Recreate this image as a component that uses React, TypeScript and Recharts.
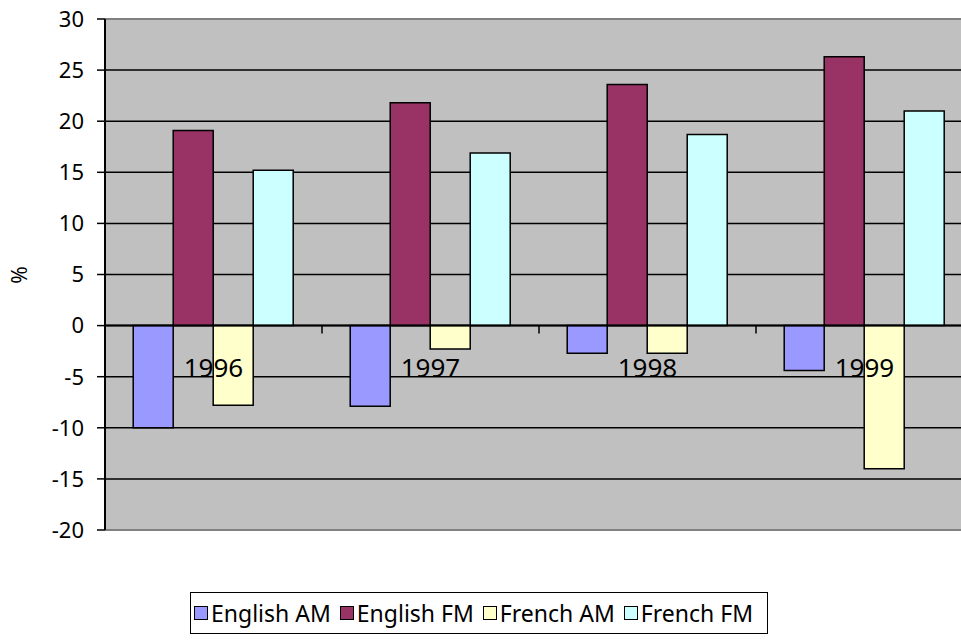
import { BarChart, Bar, XAxis, YAxis, CartesianGrid, ReferenceLine, Legend, Label } from "recharts";

const years = ["1996", "1997", "1998", "1999"];
const englishAM = [-10.0, -7.9, -2.7, -4.4];
const englishFM = [19.1, 21.8, 23.6, 26.3];
const frenchAM = [-7.8, -2.3, -2.7, -14.0];
const frenchFM = [15.2, 16.9, 18.7, 21.0];
const yTicks = [-20, -15, -10, -5, 0, 5, 10, 15, 20, 25, 30];

const SERIES = [
  { key: "englishAM", name: "English AM", color: "#9999FF" },
  { key: "englishFM", name: "English FM", color: "#993366" },
  { key: "frenchAM", name: "French AM", color: "#FFFFCC" },
  { key: "frenchFM", name: "French FM", color: "#CCFFFF" },
];

const FONT = "'Noto Sans', 'Open Sans', sans-serif";

// chart geometry
const CHART_W = 990;
const CHART_H = 641;
const PLOT_LEFT = 105;
const PLOT_TOP = 19;
const PLOT_RIGHT = 973;
const PLOT_BOTTOM = 530;
const PLOT_W = PLOT_RIGHT - PLOT_LEFT;
const PLOT_H = PLOT_BOTTOM - PLOT_TOP;
const Y_MIN = -20;
const Y_MAX = 30;

const data = years.map((year, i) => ({
  year,
  englishAM: englishAM[i],
  englishFM: englishFM[i],
  frenchAM: frenchAM[i],
  frenchFM: frenchFM[i],
}));

// category labels sit on the zero line, like Excel does
function YearTick(props: any) {
  const { x, payload, index } = props;
  const zeroY = PLOT_TOP + (PLOT_H * (Y_MAX - 0)) / (Y_MAX - Y_MIN);
  const band = PLOT_W / years.length;
  const edge = x - band / 2;
  return (
    <g>
      {index > 0 && <line x1={edge} x2={edge} y1={zeroY} y2={zeroY + 8} stroke="#000" strokeWidth={1.5} />}
      <text x={x} y={zeroY + 51} textAnchor="middle" fontSize={26} fontFamily={FONT} fill="#000">
        {payload.value}
      </text>
    </g>
  );
}

function LegendBox() {
  return (
    <div
      style={{
        border: "1.5px solid #000",
        boxSizing: "border-box",
        width: 578,
        height: 42,
        display: "flex",
        alignItems: "center",
        padding: "0 3px",
        fontFamily: FONT,
        fontSize: 23,
        color: "#000",
        background: "#fff",
        whiteSpace: "nowrap",
      }}
    >
      {SERIES.map((s) => (
        <span key={s.key} style={{ display: "inline-flex", alignItems: "center", marginRight: 9 }}>
          <span
            style={{
              display: "inline-block",
              width: 12,
              height: 12,
              border: "1.5px solid #000",
              background: s.color,
              marginRight: 3,
            }}
          />
          {s.name}
        </span>
      ))}
    </div>
  );
}

export default function App() {
  return (
    <div style={{ position: "fixed", left: 0, top: 0, width: 961, height: 641, overflow: "hidden", background: "#fff" }}>
      <BarChart
        width={CHART_W}
        height={CHART_H}
        data={data}
        margin={{ top: PLOT_TOP, right: CHART_W - PLOT_RIGHT, left: 0, bottom: CHART_H - PLOT_BOTTOM - 1 }}
        barCategoryGap="13%"
        barGap={0}
      >
        <CartesianGrid horizontal vertical={false} stroke="#000" strokeWidth={1.5} fill="#C0C0C0" fillOpacity={1} />
        <YAxis
          width={PLOT_LEFT}
          domain={[Y_MIN, Y_MAX]}
          ticks={yTicks}
          interval={0}
          allowDataOverflow
          axisLine={{ stroke: "#000", strokeWidth: 2 }}
          tickLine={{ stroke: "#000", strokeWidth: 1.5 }}
          tickSize={8}
          tickMargin={13}
          tick={{ fill: "#000", fontSize: 22, fontFamily: FONT }}
        >
          <Label
            content={() => (
              <text x={27} y={275} transform="rotate(-90 27 275)" textAnchor="middle" fontSize={21} fontFamily={FONT} fill="#000">
                %
              </text>
            )}
          />
        </YAxis>
        <ReferenceLine y={Y_MAX} stroke="#808080" strokeWidth={2} ifOverflow="extendDomain" />
        <ReferenceLine y={Y_MIN} stroke="#808080" strokeWidth={2} ifOverflow="extendDomain" />
        {SERIES.map((s) => (
          <Bar key={s.key} dataKey={s.key} name={s.name} fill={s.color} stroke="#000" strokeWidth={1.5} isAnimationActive={false} />
        ))}
        <ReferenceLine y={0} stroke="#000" strokeWidth={2} />
        <XAxis dataKey="year" height={1} axisLine={false} tickLine={false} interval={0} tick={<YearTick />} />
        <Legend
          layout="horizontal"
          verticalAlign="middle"
          align="center"
          content={() => <LegendBox />}
          wrapperStyle={{ position: "absolute", left: 190, top: 592, width: 578, height: 42 }}
        />
      </BarChart>
    </div>
  );
}
